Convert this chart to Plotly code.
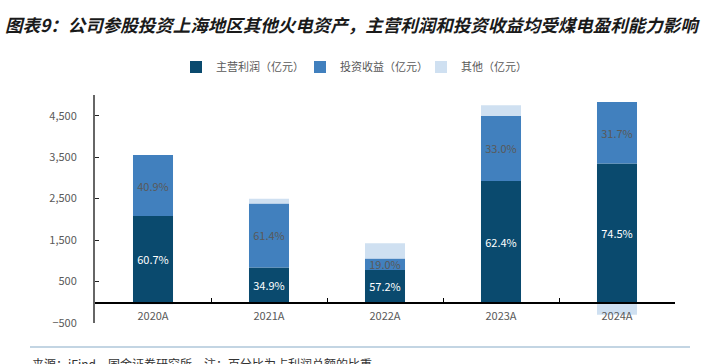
import plotly.graph_objects as go

categories = ["2020A", "2021A", "2022A", "2023A", "2024A"]
main_profit = [2080, 840, 780, 2925, 3350]
invest_income = [1470, 1545, 275, 1570, 1480]
other = [-50, 110, 370, 255, -300]
main_pct = ["60.7%", "34.9%", "57.2%", "62.4%", "74.5%"]
invest_pct = ["40.9%", "61.4%", "19.0%", "33.0%", "31.7%"]
y_ticks = [-500, 500, 1500, 2500, 3500, 4500]
rule_x = [0, 1]
rule_y = [0, 0]

FONT = "Noto Sans CJK SC"
C_MAIN = "#0A4A6E"
C_INV = "#4180BE"
C_OTH = "#CFE0F1"
C_RULE = "#C3D5E3"

W, H = 710, 364

def fx(X):
    return X / W

def fy(Y):
    return (H - Y) / H

fig = go.Figure()
fig.add_trace(go.Bar(x=categories, y=main_profit, name="主营利润（亿元）", legend="legend",
                     showlegend=True,
                     marker=dict(color=C_MAIN, line=dict(width=0)), width=0.345,
                     text=main_pct, textposition="inside", insidetextanchor="middle",
                     constraintext="none",
                     textfont=dict(color="white", size=11, family=FONT)))
fig.add_trace(go.Bar(x=categories, y=invest_income, name="投资收益（亿元）", legend="legend2",
                     showlegend=True,
                     marker=dict(color=C_INV, line=dict(width=0)), width=0.345,
                     text=invest_pct, textposition="inside", insidetextanchor="middle",
                     constraintext="none",
                     textfont=dict(color="#595959", size=11, family=FONT)))
fig.add_trace(go.Bar(x=categories, y=other, name="其他（亿元）", legend="legend3",
                     showlegend=True,
                     marker=dict(color=C_OTH, line=dict(width=0)), width=0.345,
                     textposition="none"))
# separator rule above the source note, on its own hidden axes
fig.add_trace(go.Scatter(x=rule_x, y=rule_y, mode="lines", xaxis="x2", yaxis="y2",
                         line=dict(color=C_RULE, width=2), showlegend=False,
                         hoverinfo="skip", cliponaxis=False))

def leg(X):
    return dict(orientation="h", x=fx(X), y=fy(67), xanchor="left", yanchor="middle",
                font=dict(size=11, color="#595959", family=FONT), itemwidth=30,
                bgcolor="rgba(0,0,0,0)")

fig.update_layout(
    width=W, height=H, barmode="relative", showlegend=True,
    margin=dict(l=0, r=0, t=0, b=0, autoexpand=False),
    paper_bgcolor="white", plot_bgcolor="rgba(0,0,0,0)",
    font=dict(family=FONT, color="#595959", size=11),
    uniformtext=dict(mode=False),
    legend=leg(176), legend2=leg(300), legend3=leg(421),
    xaxis=dict(type="category", range=[-0.5, 4.5], domain=[fx(95), fx(675)], anchor="free",
               position=fy(302.7), showline=True, linecolor="#000000", linewidth=1.5,
               ticks="inside", ticklen=4, tickcolor="#000000", tickson="boundaries",
               ticklabelstandoff=3,
               tickfont=dict(size=11, color="#595959", family=FONT), showgrid=False),
    yaxis=dict(range=[-500, 5000], domain=[fy(323), fy(95)], tickvals=y_ticks, tickformat=",",
               showline=True, linecolor="#666666", linewidth=2,
               ticks="inside", ticklen=4, tickcolor="#222222",
               ticklabelstandoff=14,
               showgrid=False, zeroline=False,
               tickfont=dict(size=11, color="#595959", family=FONT)),
    xaxis2=dict(domain=[fx(30), fx(690)], range=[0, 1], anchor="y2", visible=False,
                fixedrange=True),
    yaxis2=dict(domain=[fy(352), fy(342)], range=[-1, 1], anchor="x2", visible=False,
                fixedrange=True),
)

fig.add_annotation(xref="paper", yref="paper", x=fx(3), y=fy(25), xanchor="left", yanchor="middle",
                   text="<b><i>图表9：公司参股投资上海地区其他火电资产，主营利润和投资收益均受煤电盈利能力影响</i></b>",
                   showarrow=False, font=dict(size=17.5, color="#1a1a1a", family=FONT))
fig.add_annotation(xref="paper", yref="paper", x=fx(30), y=fy(353), xanchor="left", yanchor="top",
                   text="来源：iFind，国金证券研究所，注：百分比为占利润总额的比重",
                   showarrow=False, font=dict(size=12, color="#333333", family=FONT))

fig.write_html("out.html", config={"displayModeBar": False},
               post_script="document.body.style.margin='0';")
